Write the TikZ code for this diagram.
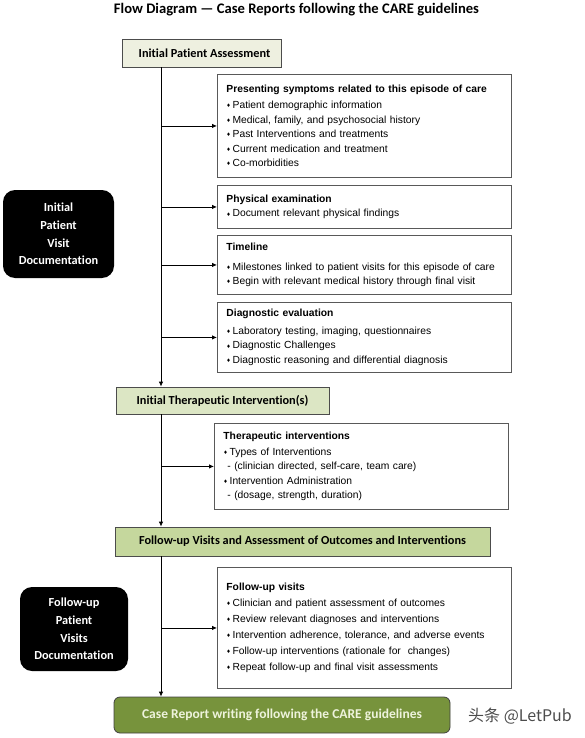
\documentclass[tikz,border=0pt]{standalone}
\usepackage{fontspec}
\usetikzlibrary{arrows.meta}
\newfontfamily\arialfont{Liberation Sans}
\newfontfamily\calfont{Carlito}[Ligatures=CommonOff]
\newfontfamily\symfont{DejaVu Sans}
\newfontfamily\cjkfont{Noto Sans CJK SC}
\definecolor{assessfill}{HTML}{EEF0E0}
\definecolor{therfill}{HTML}{DCE6C4}
\definecolor{followfill}{HTML}{C5D79D}
\definecolor{reportfill}{HTML}{77933C}
\definecolor{reporttext}{HTML}{EEF3DC}
\newcommand{\dmd}{{\symfont\fontsize{5}{5}\selectfont\raisebox{0.8pt}{♦}}\,}

\begin{document}
\begin{tikzpicture}[x=1pt,y=-1pt,
  infobox/.style={draw=black!65,line width=0.9pt,fill=white,anchor=north west,
    inner xsep=9pt,text width=276pt,align=left,
    font=\arialfont\fontsize{10.3}{14.5}\selectfont},
  stagebox/.style={draw=black!70,line width=0.8pt,inner sep=0pt,
    font=\calfont\bfseries\fontsize{12.3}{14}\selectfont},
  docbox/.style={fill=black,rounded corners=12pt,text=white,align=center,inner sep=0pt,
    font=\calfont\bfseries\fontsize{12.3}{17.7}\selectfont},
  arr/.style={-{Latex[length=5pt,width=4.5pt]},line width=0.8pt}]
\useasboundingbox (0,0) rectangle (585,738);
\node[font=\calfont\bfseries\fontsize{14.6}{16}\selectfont] (title) at (296.5,10) {Flow Diagram — Case Reports following the CARE guidelines};
\node[stagebox,fill=assessfill,minimum width=159pt,minimum height=28pt] (assess) at (201.5,53) {\hspace*{6pt}Initial Patient Assessment};
\node[stagebox,fill=therfill,minimum width=213pt,minimum height=27pt] (therapy) at (222.5,400.5) {Initial Therapeutic Intervention(s)};
\node[stagebox,fill=followfill,minimum width=375pt,minimum height=29pt] (followup) at (302.5,541.5) {Follow-up Visits and Assessment of Outcomes and Interventions};
\node[stagebox,fill=reportfill,draw=black!75,rounded corners=6pt,text=reporttext,minimum width=336pt,minimum height=36pt,font=\calfont\bfseries\fontsize{13.5}{15}\selectfont] (report) at (282,715) {Case Report writing following the CARE guidelines};
\node[infobox,minimum height=103pt] (symptoms) at (217,74) {{\bfseries Presenting symptoms related to this episode of care}\\[1.5pt]
\dmd Patient demographic information\\
\dmd Medical, family, and psychosocial history\\
\dmd Past Interventions and treatments\\
\dmd Current medication and treatment\\
\dmd Co-morbidities};
\node[infobox,minimum height=43pt] (physical) at (217,185) {{\bfseries Physical examination}\\
\dmd Document relevant physical findings};
\node[infobox,minimum height=59pt] (timeline) at (217,235) {{\bfseries Timeline}\\[5pt]
\dmd Milestones linked to patient visits for this episode of care\\
\dmd Begin with relevant medical history through final visit};
\node[infobox,minimum height=70pt] (diagnostic) at (217,302) {{\bfseries Diagnostic evaluation}\\[3pt]
\dmd Laboratory testing, imaging, questionnaires\\
\dmd Diagnostic Challenges\\
\dmd Diagnostic reasoning and differential diagnosis};
\node[infobox,minimum height=86pt] (interventions) at (214,423) {{\bfseries Therapeutic interventions}\\[1pt]
\dmd Types of Interventions\\
\hspace*{4pt}- (clinician directed, self-care, team care)\\
\dmd Intervention Administration\\
\hspace*{4pt}- (dosage, strength, duration)};
\node[infobox,minimum height=121pt] (visits) at (217,567) {{\bfseries Follow-up visits}\\[1.5pt]
\dmd Clinician and patient assessment of outcomes\\[1.5pt]
\dmd Review relevant diagnoses and interventions\\[1.5pt]
\dmd Intervention adherence, tolerance, and adverse events\\[1.5pt]
\dmd Follow-up interventions (rationale for \ changes)\\[1.5pt]
\dmd Repeat follow-up and final visit assessments};
\node[docbox,minimum width=111pt,minimum height=88pt] (initialdoc) at (58.5,234) {Initial\\Patient\\Visit\\Documentation};
\node[docbox,minimum width=108pt,minimum height=84pt] (followdoc) at (74,629) {Follow-up\\Patient\\Visits\\Documentation};
\node[text=black!70,font=\cjkfont\fontsize{16}{18}\selectfont] (mark) at (520,716) {头条 @LetPub};
\coordinate (trunk) at (161,0);
\draw[arr] (assess.south -| trunk) -- (therapy.north -| trunk);
\draw[arr] (therapy.south -| trunk) -- (followup.north -| trunk);
\draw[arr] (followup.south -| trunk) -- (report.north -| trunk);
\foreach \info in {symptoms,physical,timeline,diagnostic,interventions,visits}
  \draw[arr] (\info.west -| trunk) -- (\info.west);
\end{tikzpicture}
\end{document}
